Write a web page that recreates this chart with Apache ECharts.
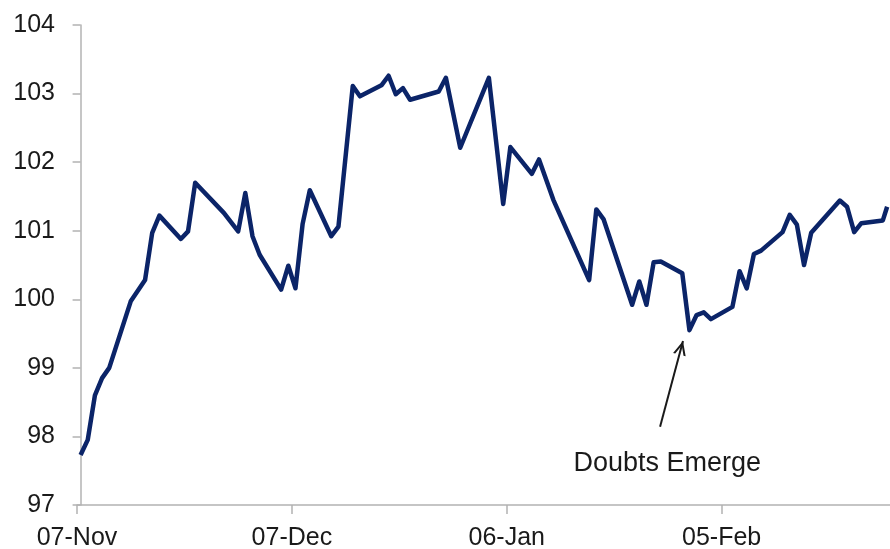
<!DOCTYPE html>
<html><head><meta charset="utf-8">
<script src="https://cdn.jsdelivr.net/npm/echarts@6/dist/echarts.min.js"></script>
<style>html,body{margin:0;padding:0;background:#fff}#c{width:890px;height:549px}</style>
</head><body><div id="c"></div>
<script>
// Trading-day offsets (days after 07-Nov) and index values
const days = [0,1,2,3,4,7,9,10,11,14,15,16,20,22,23,24,25,28,29,30,31,32,35,36,38,39,42,43,44,45,46,50,51,53,57,59,60,63,64,66,71,72,73,77,78,79,80,81,84,85,86,87,88,91,92,93,94,95,98,99,100,101,102,106,107,108,109,112,112.6];
const values = [97.73,97.95,98.6,98.85,99.0,99.97,100.28,100.97,101.22,100.88,100.99,101.7,101.26,100.99,101.55,100.92,100.65,100.14,100.49,100.16,101.1,101.59,100.92,101.06,103.11,102.96,103.12,103.26,102.99,103.08,102.91,103.03,103.23,102.21,103.23,101.39,102.22,101.83,102.04,101.45,100.28,101.31,101.17,99.92,100.26,99.92,100.54,100.55,100.38,99.55,99.77,99.81,99.71,99.89,100.41,100.16,100.66,100.71,100.98,101.23,101.09,100.5,100.97,101.44,101.35,100.98,101.11,101.15,101.35];
const tickLabels = ['07-Nov','07-Dec','06-Jan','05-Feb'];
const yTicks = [97,98,99,100,101,102,103,104];
const annotation = {text:'Doubts Emerge', day:80.9, value:98.14, tipDay:84.1, tipValue:99.39, textDay:81.9, textValue:97.61};

const chart = echarts.init(document.getElementById('c'));
const font = 'Liberation Sans, Arial, sans-serif';
chart.setOption({
  animation:false,
  grid:{left:77,right:0,top:25,bottom:44,containLabel:false,outerBoundsMode:'none'},
  xAxis:{type:'value',min:-0.5,max:113,interval:30,
    axisLine:{lineStyle:{color:'#b3b3b3',width:1.5}},
    axisTick:{length:9,lineStyle:{color:'#b3b3b3',width:1.5}},
    splitLine:{show:false},
    axisLabel:{color:'#1a1a1a',fontSize:25,fontFamily:font,margin:21,showMaxLabel:false,
      formatter:v=>{const k=(v+0.5)/30;return Number.isInteger(Math.round(k*1000)/1000)?(tickLabels[Math.round(k)]||''):'';}}},
  yAxis:{type:'value',min:yTicks[0],max:yTicks[yTicks.length-1],interval:1,
    axisLine:{show:true,lineStyle:{color:'#b3b3b3',width:1.5}},
    axisTick:{show:true,length:8,lineStyle:{color:'#b3b3b3',width:1.5}},
    splitLine:{show:false},
    axisLabel:{color:'#1a1a1a',fontSize:25,fontFamily:font,margin:22}},
  series:[{type:'line',data:days.map((d,i)=>[d,values[i]]),showSymbol:false,
    lineStyle:{color:'#0b2468',width:4.5,join:'round'},clip:true,
    markLine:{silent:true,symbol:['none','path://M5,0 L10,12 L8.3,12 L5,4 L1.7,12 L0,12 Z M5,-12 L5.01,-12 L5,-11.99 Z'],symbolSize:[13,28],
      lineStyle:{color:'#1a1a1a',width:2,type:'solid'},label:{show:false},
      data:[[{coord:[annotation.day,annotation.value]},{coord:[annotation.tipDay,annotation.tipValue]}]]},
    markPoint:{silent:true,symbol:'rect',symbolSize:1,itemStyle:{color:'transparent'},
      label:{show:true,formatter:annotation.text,color:'#1a1a1a',fontSize:27,fontFamily:font,position:'inside'},
      data:[{coord:[annotation.textDay,annotation.textValue]}]}
  }]
});
</script></body></html>
